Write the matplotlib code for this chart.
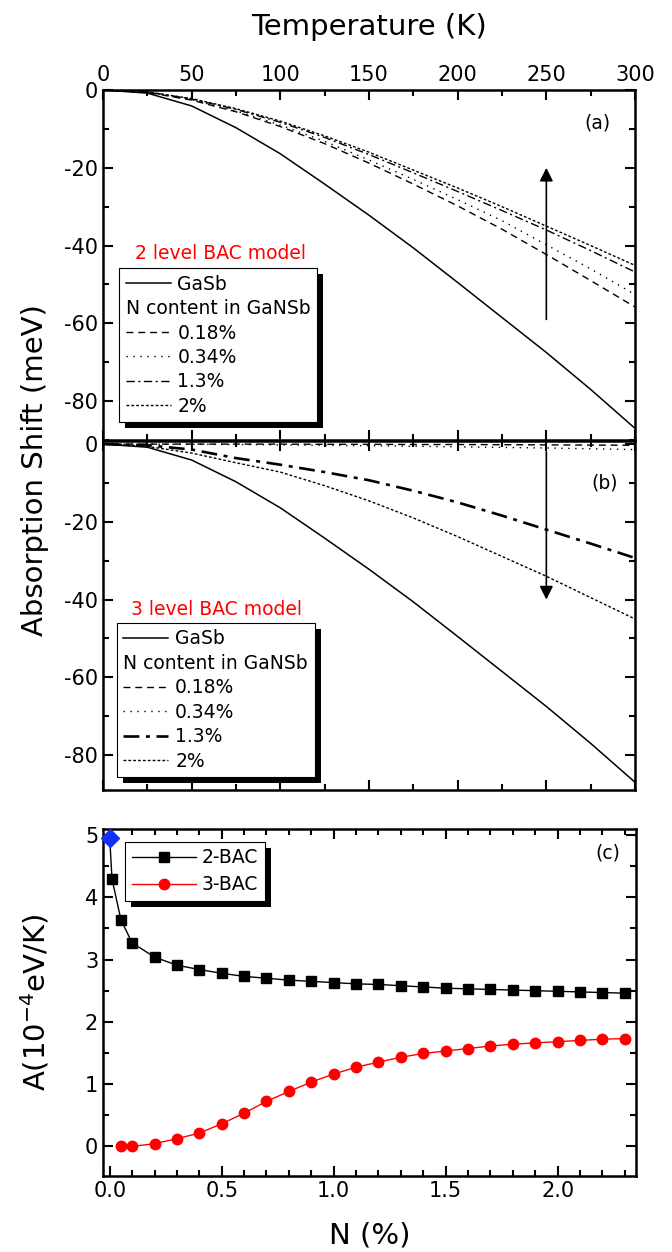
import matplotlib.pyplot as plt
from matplotlib.lines import Line2D
from matplotlib.legend_handler import HandlerBase
from matplotlib.patches import Rectangle
from matplotlib.ticker import MultipleLocator, FormatStrFormatter

plt.rcParams['font.family'] = ['DejaVu Sans']
plt.rcParams['mathtext.default'] = 'regular'
plt.rcParams['axes.unicode_minus'] = False

# temperature grid (K)
temp = [0, 25, 50, 75, 100, 125, 150, 175, 200, 225, 250, 275, 300]

# absorption shift (meV)
gasb = [0, -0.8, -4.1, -9.7, -16.4, -24.2, -32.2, -40.6, -49.5, -58.5, -67.5, -77.0, -87.0]

# 2 level BAC model
bac2_018 = [0, -0.6, -2.6, -5.6, -9.4, -13.8, -18.8, -24.2, -29.8, -35.8, -42.3, -49.0, -55.8]
bac2_034 = [0, -0.6, -2.5, -5.4, -9.0, -13.2, -18.0, -23.0, -28.2, -33.6, -39.8, -46.0, -52.6]
bac2_13 = [0, -0.5, -2.3, -5.0, -8.3, -12.2, -16.6, -21.3, -26.1, -31.0, -36.0, -41.3, -46.8]
bac2_20 = [0, -0.5, -2.2, -4.8, -8.0, -11.8, -16.0, -20.6, -25.2, -30.0, -35.0, -40.0, -45.1]

# 3 level BAC model
bac3_018 = [0, 0, 0, 0, 0, -0.05, -0.05, -0.1, -0.1, -0.15, -0.2, -0.25, -0.3]
bac3_034 = [0, 0, -0.05, -0.1, -0.2, -0.3, -0.4, -0.55, -0.7, -0.85, -1.0, -1.2, -1.4]
bac3_13 = [0, -0.3, -1.4, -3.6, -5.3, -7.2, -9.3, -12.0, -15.0, -18.4, -22.0, -25.6, -29.3]
bac3_20 = [0, -0.6, -2.3, -4.8, -7.2, -10.7, -14.6, -19.0, -23.8, -28.9, -34.0, -39.5, -45.0]

# panel (c): A coefficient vs N content
n_2bac = [0.0, 0.01, 0.05, 0.1, 0.2, 0.3, 0.4, 0.5, 0.6, 0.7, 0.8, 0.9, 1.0, 1.1, 1.2,
          1.3, 1.4, 1.5, 1.6, 1.7, 1.8, 1.9, 2.0, 2.1, 2.2, 2.3]
a_2bac = [4.96, 4.30, 3.64, 3.27, 3.04, 2.91, 2.84, 2.78, 2.73, 2.70, 2.67, 2.65, 2.63,
          2.61, 2.60, 2.58, 2.56, 2.54, 2.53, 2.52, 2.51, 2.50, 2.49, 2.48, 2.47, 2.46]
n_3bac = [0.05, 0.1, 0.2, 0.3, 0.4, 0.5, 0.6, 0.7, 0.8, 0.9, 1.0, 1.1, 1.2, 1.3, 1.4,
          1.5, 1.6, 1.7, 1.8, 1.9, 2.0, 2.1, 2.2, 2.3]
a_3bac = [0.00, -0.005, 0.04, 0.12, 0.21, 0.36, 0.53, 0.72, 0.88, 1.03, 1.16, 1.27,
          1.35, 1.43, 1.49, 1.53, 1.57, 1.61, 1.64, 1.66, 1.68, 1.70, 1.72, 1.73]
n_gasb = [0.0]
a_gasb = [4.96]

FS = 15      # tick labels
LFS = 13.5   # legends and notes
LAB = 21     # axis titles

fig = plt.figure(figsize=(6.72, 12.52), dpi=100)
ax_a = fig.add_axes([103 / 672, 1 - 440 / 1252, 532 / 672, 350 / 1252])
ax_b = fig.add_axes([103 / 672, 1 - 790 / 1252, 532 / 672, 349 / 1252])
ax_c = fig.add_axes([103 / 672, 1 - 1176 / 1252, 533 / 672, 347 / 1252])


class BlankHandler(HandlerBase):
    # text-only legend row, aligned with the handles
    def legend_artist(self, legend, orig_handle, fontsize, handlebox):
        handlebox.width = -legend.handletextpad * fontsize
        ln = Line2D([], [], visible=False)
        handlebox.add_artist(ln)
        return ln


def style_axis(ax):
    for s in ax.spines.values():
        s.set_linewidth(1.8)
    ax.tick_params(which='both', direction='in', top=True, bottom=True,
                   left=True, right=True, width=1.5, labelsize=FS)
    ax.tick_params(which='major', length=7)
    ax.tick_params(which='minor', length=4)


def add_shadow(ax, leg, off=6):
    fig.canvas.draw()
    bb = leg.get_window_extent()
    inv = ax.transAxes.inverted()
    x0, y0 = inv.transform((bb.x0 + off, bb.y0 - off))
    x1, y1 = inv.transform((bb.x1 + off, bb.y1 - off))
    ax.add_patch(Rectangle((x0, y0), x1 - x0, y1 - y0, transform=ax.transAxes,
                           facecolor='black', edgecolor='none', zorder=4.5,
                           clip_on=False))


def shift_panel(ax, data, title, tx, ty, leg_xy, lw13):
    g, c018, c034, c13, c20 = data
    ax.plot(temp, g, color='black', lw=1.1, label='GaSb')
    blank = Line2D([], [])
    ax.plot(temp, c018, color='black', lw=1.0, dashes=(5, 3.5), label='0.18%')
    ax.plot(temp, c034, color='black', lw=1.0, dashes=(1, 4), label='0.34%')
    ax.plot(temp, c13, color='black', lw=lw13, dashes=(6, 2.5, 1.5, 2.5), label='1.3%')
    ax.plot(temp, c20, color='black', lw=1.0, dashes=(2, 1.5), label='2%')
    h, l = ax.get_legend_handles_labels()
    h = [h[0], blank] + h[1:]
    l = [l[0], 'N content in GaNSb'] + l[1:]
    leg = ax.legend(h, l, loc='upper left', bbox_to_anchor=leg_xy, borderaxespad=0,
                    fontsize=LFS, frameon=True, fancybox=False, framealpha=1,
                    edgecolor='black', handlelength=2.4, handletextpad=0.36,
                    labelspacing=0.29, borderpad=0.35,
                    handler_map={blank: BlankHandler()})
    leg.get_frame().set_linewidth(0.8)
    ax.text(tx, ty, title, color='red', fontsize=LFS, ha='center', va='center',
            transform=ax.transAxes)
    ax.set_xlim(0, 300)
    ax.xaxis.set_major_locator(MultipleLocator(50))
    ax.xaxis.set_minor_locator(MultipleLocator(25))
    ax.yaxis.set_major_locator(MultipleLocator(20))
    ax.yaxis.set_minor_locator(MultipleLocator(10))
    style_axis(ax)
    return leg


leg_a = shift_panel(ax_a, (gasb, bac2_018, bac2_034, bac2_13, bac2_20),
                    '2 level BAC model', 0.22, 0.534, (0.030, 0.491), 1.0)
ax_a.set_ylim(-90, 0)
ax_a.tick_params(labeltop=True, labelbottom=False)
ax_a.xaxis.set_label_position('top')
ax_a.set_xlabel('Temperature (K)', fontsize=LAB, labelpad=22)
ax_a.text(279, -8.5, '(a)', fontsize=LFS, ha='center', va='center')
ax_a.annotate('', xy=(250, -20), xytext=(250, -59),
              arrowprops=dict(arrowstyle='-|>', color='black', lw=1.2,
                              mutation_scale=20, shrinkA=0, shrinkB=0))

leg_b = shift_panel(ax_b, (gasb, bac3_018, bac3_034, bac3_13, bac3_20),
                    '3 level BAC model', 0.214, 0.516, (0.026, 0.479), 1.9)
ax_b.set_ylim(-89, 0.8)
ax_b.tick_params(labeltop=False, labelbottom=False)
ax_b.text(283, -10.1, '(b)', fontsize=LFS, ha='center', va='center')
ax_b.annotate('', xy=(250, -40), xytext=(250, -2),
              arrowprops=dict(arrowstyle='-|>', color='black', lw=1.2,
                              mutation_scale=20, shrinkA=0, shrinkB=0))

fig.text(35 / 672, 1 - 470 / 1252, 'Absorption Shift (meV)', fontsize=LAB,
         rotation=90, ha='center', va='center')

# panel (c)
ax_c.plot(n_2bac, a_2bac, color='black', lw=1.0, marker='s', markersize=6.5,
          markevery=slice(1, None), label='2-BAC')
ax_c.plot(n_3bac, a_3bac, color='red', lw=1.0, marker='o', markersize=7.5,
          label='3-BAC')
ax_c.plot(n_gasb, a_gasb, linestyle='none', marker='D', markersize=9,
          color='#1030ff', clip_on=False, zorder=5)
ax_c.set_xlim(-0.03, 2.35)
ax_c.set_ylim(-0.48, 5.1)
ax_c.xaxis.set_major_locator(MultipleLocator(0.5))
ax_c.xaxis.set_minor_locator(MultipleLocator(0.1))
ax_c.xaxis.set_major_formatter(FormatStrFormatter('%.1f'))
ax_c.yaxis.set_major_locator(MultipleLocator(1))
ax_c.yaxis.set_minor_locator(MultipleLocator(0.5))
style_axis(ax_c)
ax_c.set_xlabel('N (%)', fontsize=LAB, labelpad=15)
ax_c.set_ylabel('A(10$^{-4}$eV/K)', fontsize=LAB, labelpad=24)
ax_c.text(2.225, 4.71, '(c)', fontsize=LFS, ha='center', va='center')
leg_c = ax_c.legend(loc='upper left', bbox_to_anchor=(0.042, 0.963), borderaxespad=0,
                    fontsize=LFS, frameon=True, fancybox=False, framealpha=1,
                    edgecolor='black', handlelength=3.4, handletextpad=0.33,
                    labelspacing=0.42, borderpad=0.35)
leg_c.get_frame().set_linewidth(0.8)

add_shadow(ax_a, leg_a)
add_shadow(ax_b, leg_b)
add_shadow(ax_c, leg_c)

fig.savefig('out.png', dpi=100)
